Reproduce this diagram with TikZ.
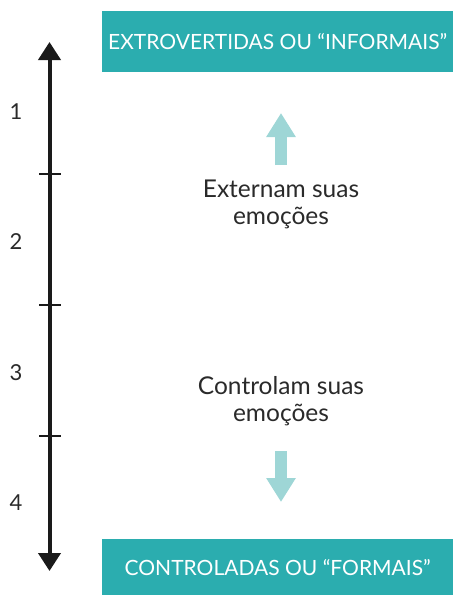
\documentclass[tikz,border=0pt]{standalone}
\usepackage{fontspec}
\setmainfont{Lato}
\usetikzlibrary{arrows.meta}
\definecolor{teal1}{HTML}{2BADAF}
\definecolor{lightteal}{HTML}{9ED6D6}
\definecolor{axisblack}{HTML}{1A1A1A}
\definecolor{numgrey}{HTML}{2A2A2A}
\tikzset{
  headbox/.style={fill=teal1, text=white, minimum width=351pt, minimum height=61pt, inner sep=0pt, font=\fontsize{21}{24}\selectfont},
  midtext/.style={text=numgrey, align=center, inner sep=0pt, font=\fontsize{24.5}{27}\selectfont},
  numlabel/.style={text=numgrey, inner sep=0pt, font=\fontsize{22}{24}\selectfont},
  axisline/.style={draw=axisblack, line width=4pt, {Triangle[length=18pt,width=22pt]}-{Triangle[length=18pt,width=22pt]}},
  tickline/.style={draw=axisblack, line width=1.5pt},
  softarrow/.style={draw=lightteal, line width=11.5pt, -{Triangle[length=24pt,width=28pt]}}
}
\begin{document}
\begin{tikzpicture}[x=1pt,y=-1pt]
\useasboundingbox (0,0) rectangle (453,595);
% boxes
\node[headbox, anchor=north west] (top) at (102,11) {EXTROVERTIDAS OU “INFORMAIS”};
\node[headbox, anchor=north west, minimum height=57pt] (bot) at (102,539) {CONTROLADAS OU “FORMAIS”};
% axis
\coordinate (axtop) at (49.5,42);
\coordinate (axbot) at (49.5,571);
\draw[axisline] (axbot) -- (axtop);
\foreach \yy/\nm in {174/t1,305/t2,436/t3}{
  \coordinate (\nm l) at (39,\yy);
  \coordinate (\nm r) at (61,\yy);
  \draw[tickline] (\nm l) -- (\nm r);
}
% numbers
\node[numlabel] (n1) at (16,112) {1};
\node[numlabel] (n2) at (16,242) {2};
\node[numlabel] (n3) at (16,373) {3};
\node[numlabel] (n4) at (16,503) {4};
% middle texts
\node[midtext] (ext) at (281,204) {Externam suas\\emoções};
\node[midtext] (con) at (281,401) {Controlam suas\\emoções};
% soft arrows
\coordinate (ua0) at (281,165);
\coordinate (ua1) at (281,113);
\draw[softarrow] (ua0) -- (ua1);
\coordinate (da0) at (281,451);
\coordinate (da1) at (281,502);
\draw[softarrow] (da0) -- (da1);
\end{tikzpicture}
\end{document}
